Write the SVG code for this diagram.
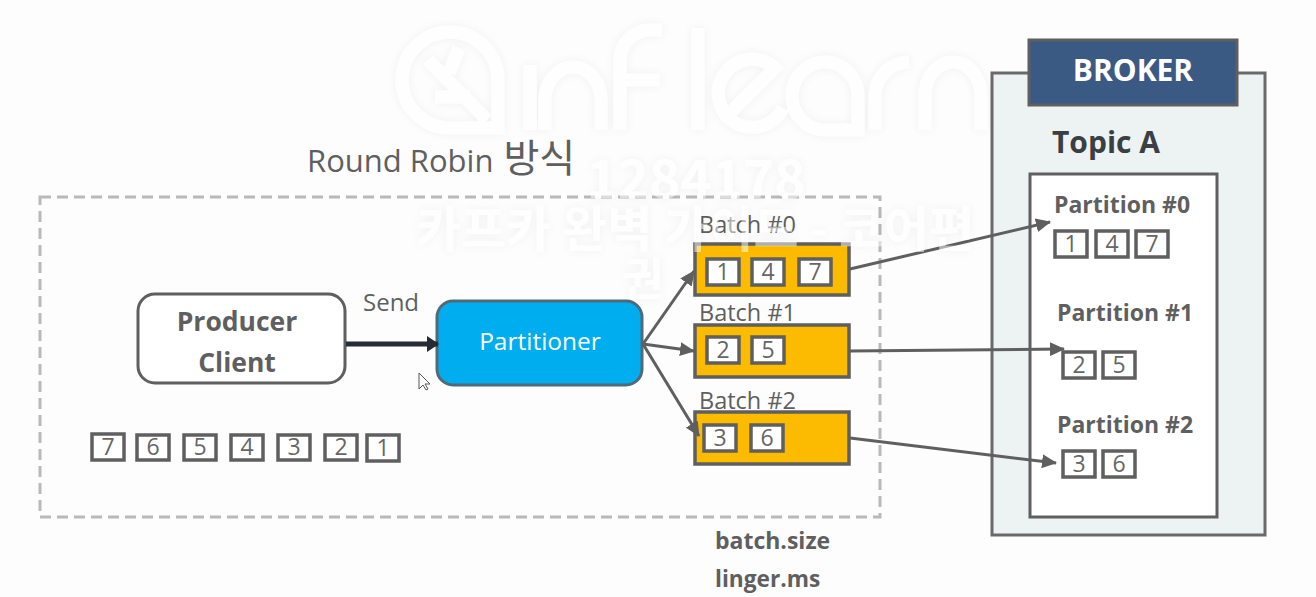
<svg xmlns="http://www.w3.org/2000/svg" width="1316" height="597" viewBox="0 0 1316 597">
<style>
text{font-family:"Open Sans","Noto Sans","Noto Sans CJK KR",sans-serif;fill:#5f5f5f}
.num{font-size:23px;text-anchor:middle;fill:#666}
.cell{fill:#fff;stroke:#5f5f5f;stroke-width:3.5}
.batch{fill:#fdbb00;stroke:#5f5f5f;stroke-width:3.5}
.lbl{font-size:23.5px}
.part{font-size:23px;font-weight:700}
.wm{fill:#fff;font-weight:700;font-family:"Noto Sans CJK KR",sans-serif;text-anchor:middle}
.wl{fill:none;stroke:#fff;stroke-width:13}
.conn{fill:none;stroke:#5f5f5f;stroke-width:3}
</style>
<defs>
<marker id="a" markerUnits="userSpaceOnUse" markerWidth="15" markerHeight="14" refX="14" refY="7" orient="auto"><path d="M0 0L15 7L0 14z" fill="#5f5f5f"/></marker>
<marker id="b" markerUnits="userSpaceOnUse" markerWidth="12" markerHeight="16" refX="11" refY="8" orient="auto"><path d="M0 0L12 8L0 16z" fill="#262c33"/></marker>
<filter id="soft" x="-5%" y="-5%" width="110%" height="110%"><feDropShadow dx="0" dy="0" stdDeviation="5" flood-color="#000" flood-opacity=".1"/></filter>
</defs>
<rect width="1316" height="597" fill="#fdfdfd"/>
<rect id="producer-scope" x="40" y="197" width="840" height="320" fill="none" stroke="#b9b9b9" stroke-width="3" stroke-dasharray="11 6"/>
<text id="title" x="307" y="172" font-size="31">Round Robin <tspan font-size="39" dx="2">방식</tspan></text>

<g id="broker">
<rect x="992" y="73" width="273" height="462" fill="#edf2f3" stroke="#6a6a6a" stroke-width="3"/>
<rect x="1029" y="40" width="208" height="65" fill="#3a5a84" stroke="#5f5f5f" stroke-width="3"/>
<text x="1133" y="81" font-size="30" font-weight="700" text-anchor="middle" style="fill:#fff">BROKER</text>
<text x="1052" y="153" font-size="30" font-weight="700" style="fill:#3a3f44">Topic A</text>
</g>
<g id="topic-a">
<rect x="1030" y="174" width="187" height="343" fill="#fff" stroke="#5f5f5f" stroke-width="3"/>
</g>
<g id="partition-0">
<text class="part" x="1054" y="213">Partition #0</text>
<rect class="cell" x="1055" y="231" width="32" height="26"/><text class="num" x="1071" y="252">1</text>
<rect class="cell" x="1096" y="231" width="32" height="26"/><text class="num" x="1112" y="252">4</text>
<rect class="cell" x="1136" y="231" width="32" height="26"/><text class="num" x="1152" y="252">7</text>
</g>
<g id="partition-1">
<text class="part" x="1057" y="321">Partition #1</text>
<rect class="cell" x="1063" y="352" width="32" height="26"/><text class="num" x="1079" y="373">2</text>
<rect class="cell" x="1103" y="352" width="32" height="26"/><text class="num" x="1119" y="373">5</text>
</g>
<g id="partition-2">
<text class="part" x="1057" y="433">Partition #2</text>
<rect class="cell" x="1063" y="451" width="32" height="26"/><text class="num" x="1079" y="472">3</text>
<rect class="cell" x="1103" y="451" width="32" height="26"/><text class="num" x="1119" y="472">6</text>
</g>

<g id="producer-client">
<rect x="138" y="294" width="207" height="89" rx="17" fill="#fff" stroke="#5f5f5f" stroke-width="3"/>
<text x="237" y="331" font-size="26.5" font-weight="700" text-anchor="middle">Producer</text>
<text x="237" y="372" font-size="26.5" font-weight="700" text-anchor="middle">Client</text>
</g>
<g id="partitioner">
<rect x="437" y="301" width="205" height="84" rx="16" fill="#00adef" stroke="#4f6b7a" stroke-width="3"/>
<text x="540" y="350" font-size="24.5" text-anchor="middle" style="fill:#fff">Partitioner</text>
</g>
<text id="send" x="363" y="311" font-size="24">Send</text>

<g id="batch-0">
<text class="lbl" x="699" y="233">Batch #0</text>
<rect class="batch" x="695" y="244" width="154" height="51"/>
<rect class="cell" x="707" y="259" width="32" height="26"/><text class="num" x="723" y="280">1</text>
<rect class="cell" x="752" y="259" width="32" height="26"/><text class="num" x="768" y="280">4</text>
<rect class="cell" x="799" y="259" width="32" height="26"/><text class="num" x="815" y="280">7</text>
</g>
<g id="batch-1">
<text class="lbl" x="699" y="321">Batch #1</text>
<rect class="batch" x="695" y="325" width="154" height="52"/>
<rect class="cell" x="707" y="337" width="32" height="26"/><text class="num" x="723" y="358">2</text>
<rect class="cell" x="752" y="337" width="32" height="26"/><text class="num" x="768" y="358">5</text>
</g>
<g id="batch-2">
<text class="lbl" x="699" y="409">Batch #2</text>
<rect class="batch" x="695" y="412" width="154" height="52"/>
<rect class="cell" x="704" y="425" width="32" height="26"/><text class="num" x="720" y="446">3</text>
<rect class="cell" x="751" y="425" width="32" height="26"/><text class="num" x="767" y="446">6</text>
</g>

<g id="queue">
<rect class="cell" x="92" y="434" width="32" height="26"/><text class="num" x="108" y="455">7</text>
<rect class="cell" x="137" y="435" width="32" height="25"/><text class="num" x="153" y="455">6</text>
<rect class="cell" x="184" y="435" width="32" height="25"/><text class="num" x="200" y="455">5</text>
<rect class="cell" x="231" y="435" width="32" height="25"/><text class="num" x="247" y="455">4</text>
<rect class="cell" x="278" y="435" width="32" height="25"/><text class="num" x="294" y="455">3</text>
<rect class="cell" x="325" y="435" width="32" height="25"/><text class="num" x="341" y="455">2</text>
<rect class="cell" x="367" y="435" width="32" height="26"/><text class="num" x="383" y="456">1</text>
</g>

<g id="connectors">
<line x1="346" y1="344" x2="438" y2="344" fill="none" stroke="#262c33" stroke-width="5" marker-end="url(#b)"/>
<line class="conn" x1="643" y1="344" x2="694" y2="271" marker-end="url(#a)"/>
<line class="conn" x1="643" y1="344" x2="694" y2="351" marker-end="url(#a)"/>
<line class="conn" x1="643" y1="344" x2="699" y2="436" marker-end="url(#a)"/>
<line class="conn" x1="850" y1="269" x2="1050" y2="222" marker-end="url(#a)"/>
<line class="conn" x1="850" y1="351" x2="1064" y2="349" marker-end="url(#a)"/>
<line class="conn" x1="850" y1="438" x2="1056" y2="463" marker-end="url(#a)"/>
</g>

<path id="cursor" d="M419 373V389L423 385L426 390L428 389L425 384L430 384Z" fill="#fff" stroke="#555" stroke-width="1"/>
<text id="batch-size" x="715" y="549" font-size="23" font-weight="700">batch.size</text>
<text id="linger-ms" x="715" y="587" font-size="22.7" font-weight="700">linger.ms</text>

<g id="watermark" opacity=".5" filter="url(#soft)">
<path class="wl" d="M498 128H450A48 48 0 1 1 498 80ZM428 60L487 120M459 48L449 73M435 97H470"/>
<path class="wl" d="M530 130V65M545 130V100A28 33 0 0 1 601 100V130M620 130V60A30 30 0 0 1 650 30H662M620 80H660M698 28V130M725 118L775 68A34 34 0 1 0 783 108M858 130H825A33 34 0 1 1 858 96ZM875 130V96A34 34 0 0 1 909 62M925 130V96A28 34 0 0 1 981 96V130"/>
<text class="wm" x="696" y="198" font-size="53">1284178</text>
<text class="wm" x="695" y="247" font-size="49">카프카 완벽 가이드 - 코어편</text>
<text class="wm" x="643" y="296" font-size="45">권</text>
</g>
</svg>
